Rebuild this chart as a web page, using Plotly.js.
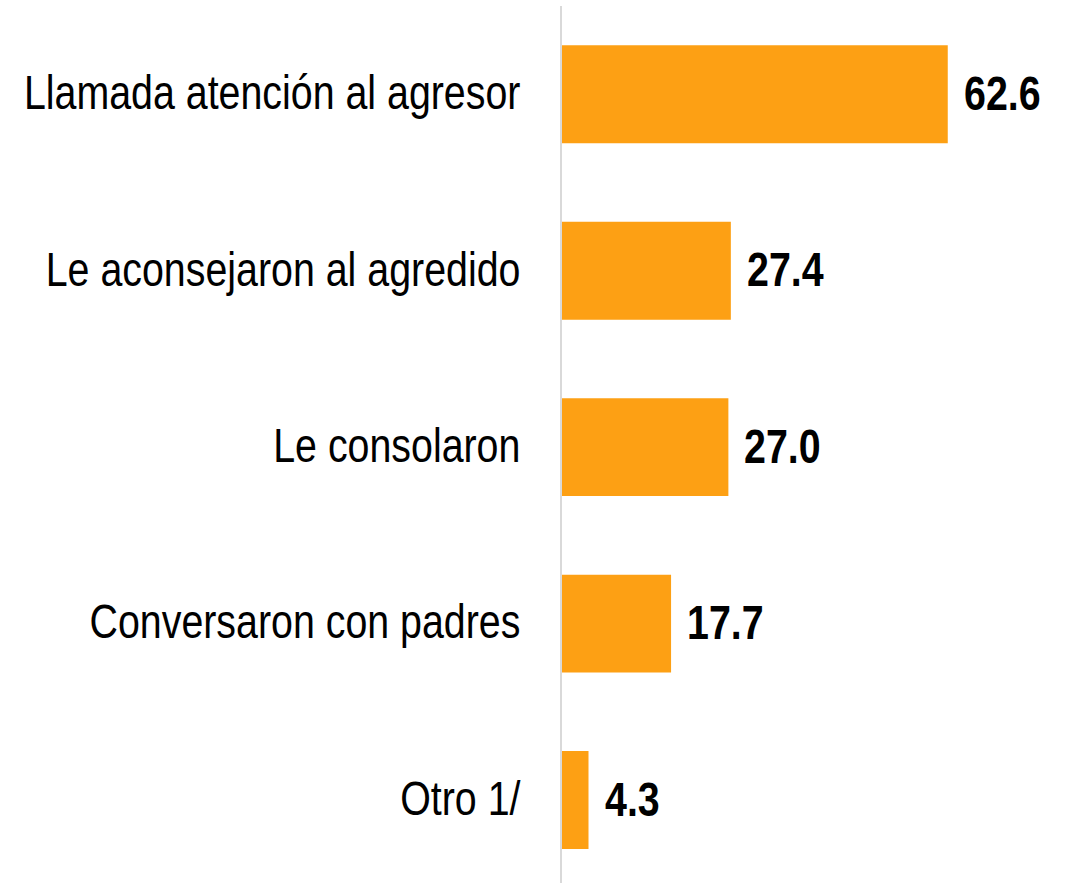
<!DOCTYPE html>
<html>
<head>
<meta charset="utf-8">
<script src="https://cdn.plot.ly/plotly-3.0.1.min.js"></script>
<style>html,body{margin:0;padding:0;background:#fff;}#chart{width:1071px;height:883px;}</style>
</head>
<body>
<div id="chart"></div>
<script>
var categories = ["Llamada atención al agresor", "Le aconsejaron al agredido", "Le consolaron", "Conversaron con padres", "Otro 1/"];
var values = [62.6, 27.4, 27.0, 17.7, 4.3];
var labels = ["62.6", "27.4", "27.0", "17.7", "4.3"];

var FONT = '"Liberation Sans Narrow", "Arial Narrow", "Liberation Sans", Arial, sans-serif';
var NARROW = 0.82; // horizontal condensing to mimic Arial Narrow

var trace = {
  type: 'bar',
  orientation: 'h',
  y: categories,
  x: values,
  marker: {color: '#FDA014', line: {width: 0}},
  hoverinfo: 'none'
};

var annotations = categories.map(function(c, i) {
  return {
    x: values[i], y: c, xref: 'x', yref: 'y',
    text: labels[i], showarrow: false,
    xanchor: 'left', yanchor: 'middle', xshift: 14, yshift: 1,
    font: {family: FONT, size: 48, color: '#000', weight: 'bold'}
  };
});

var layout = {
  width: 1071, height: 883,
  margin: {l: 562, r: 0, t: 6, b: 0},
  paper_bgcolor: '#fff', plot_bgcolor: '#fff',
  showlegend: false,
  bargap: 0.445,
  xaxis: {range: [0, 82.6], visible: false, fixedrange: true},
  yaxis: {
    type: 'category',
    range: [4.47, -0.5],
    showline: true, linecolor: '#d9d9d9', linewidth: 2,
    showgrid: false, zeroline: false, ticks: '',
    ticklabelstandoff: 30,
    tickfont: {family: FONT, size: 48, color: '#000'}
  },
  annotations: annotations
};

function condense(el, anchorRight, dy) {
  var b = el.getBBox();
  var ax = anchorRight ? b.x + b.width : b.x;
  var t = el.getAttribute('transform') || '';
  el.setAttribute('transform', t + ' translate(' + ax + ',' + dy + ') scale(' + NARROW + ',1) translate(' + (-ax) + ',0)');
}

Plotly.newPlot('chart', [trace], layout, {displayModeBar: false, staticPlot: true}).then(function(gd) {
  gd.querySelectorAll('.ytick text').forEach(function(el) { condense(el, true, -2); });
  gd.querySelectorAll('.annotation-text').forEach(function(el) { condense(el, false, 0); });
});
</script>
</body>
</html>
